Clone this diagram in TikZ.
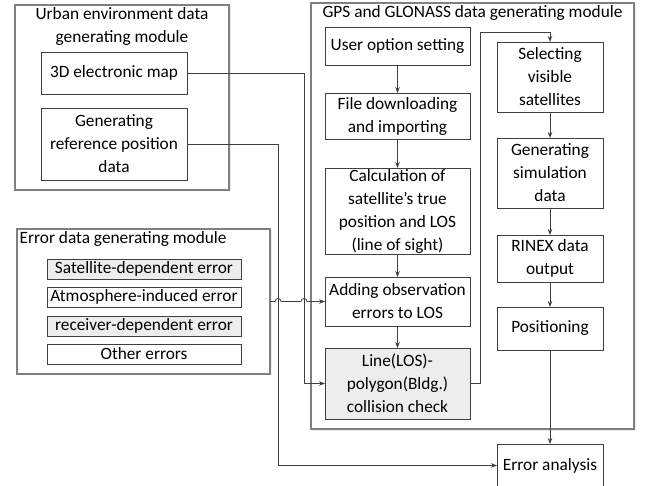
\documentclass[tikz,border=0pt]{standalone}
\usepackage{fontspec}
\setmainfont{Carlito}
\usetikzlibrary{positioning, arrows.meta, shadows, calc}

\begin{document}
\begin{tikzpicture}[
    x=1pt, y=1pt,
    font=\fontsize{17.3}{23}\selectfont,
    module/.style={rectangle, draw=black!50, line width=1.2pt, fill=white, inner sep=0pt, outer sep=0pt, anchor=north west, drop shadow={shadow xshift=1.5pt, shadow yshift=-1.5pt, opacity=0.15}},
    heading/.style={inner sep=2.5pt, align=center},
    block/.style={rectangle, draw=black!75, line width=0.8pt, fill=white, align=center, inner sep=0pt, outer sep=0pt, drop shadow={shadow xshift=1.2pt, shadow yshift=-1.2pt, opacity=0.12}},
    shaded/.style={fill=black!7},
    leftcol/.style={block, minimum width=145pt},
    rightcol/.style={block, minimum width=106pt},
    errtype/.style={block, minimum width=194pt, minimum height=20pt},
    link/.style={draw=black!75, line width=0.8pt, -{Stealth[length=6pt, width=4.5pt]}}
]
\useasboundingbox (0,0) rectangle (651,-486);

% Module frames
\node[module, minimum width=214pt, minimum height=185pt] (urban) at (15,-5) {};
\node[module, minimum width=253pt, minimum height=145pt] (errmod) at (17,-229) {};
\node[module, minimum width=323pt, minimum height=426pt] (gps) at (311,-3) {};

\node[heading, below=0pt of urban.north] (urbantitle) {Urban environment data\\generating module};
\node[heading, anchor=north west] (errtitle) at (errmod.north west) {Error data generating module};
\node[heading, below=0pt of gps.north] (gpstitle) {GPS and GLONASS data generating module};

% Urban environment data
\node[block, minimum width=146pt, minimum height=42pt, anchor=north west] (map) at (41,-52) {3D electronic map};
\node[block, minimum width=146pt, minimum height=72pt, below=14pt of map] (refpos) {Generating\\reference position\\data};

% Error sources
\node[errtype, shaded, anchor=north west] (sat) at (47,-259) {Satellite-dependent error};
\node[errtype, below=8pt of sat] (atm) {Atmosphere-induced error};
\node[errtype, shaded, below=9pt of atm] (rcv) {receiver-dependent error};
\node[errtype, below=8pt of rcv] (other) {Other errors};

% GPS/GLONASS chain, left column
\node[leftcol, minimum height=38pt, anchor=north] (user) at (397.5,-27) {User option setting};
\node[leftcol, minimum height=46pt, below=28pt of user] (download) {File downloading\\and importing};
\node[leftcol, minimum height=86pt, below=29pt of download] (truepos) {Calculation of\\satellite's true\\position and LOS\\(line of sight)};
\node[leftcol, minimum height=49pt, below=23pt of truepos] (adderr) {Adding observation\\errors to LOS};
\node[leftcol, shaded, minimum height=71pt, below=22pt of adderr] (collide) {Line(LOS)-\\polygon(Bldg.)\\collision check};

% right column
\node[rightcol, minimum height=70pt, anchor=north] (visible) at (550,-42) {Selecting\\visible\\satellites};
\node[rightcol, minimum height=70pt, below=26pt of visible] (simdata) {Generating\\simulation\\data};
\node[rightcol, minimum height=47pt, below=27pt of simdata] (rinex) {RINEX data\\output};
\node[rightcol, minimum height=43pt, below=25pt of rinex] (posn) {Positioning};
\node[rightcol, minimum height=43pt, below=94pt of posn] (analysis) {Error analysis};

% Connectors
\coordinate (mapdrop) at (304,0);
\coordinate (refdrop) at (278,0);

\draw[link] (user) -- (download);
\draw[link] (download) -- (truepos);
\draw[link] (truepos) -- (adderr);
\draw[link] (adderr) -- (collide);
\draw[link] (collide.east) -- ++(10,0) |- ($(visible.north)+(0,10)$) -- (visible.north);
\draw[link] (visible) -- (simdata);
\draw[link] (simdata) -- (rinex);
\draw[link] (rinex) -- (posn);
\draw[link] (posn) -- (analysis);

\draw[link] (map.east) -| (mapdrop |- collide.west) -- (collide.west);
\draw[link] (refpos.east) -| (refdrop |- analysis.west) -- (analysis.west);
% error line hops over the two drops
\draw[link] (errmod.east) -- ($(refdrop |- errmod.east)+(-3,0)$)
    arc[start angle=180, end angle=0, radius=3pt] -- ($(mapdrop |- errmod.east)+(-3,0)$)
    arc[start angle=180, end angle=0, radius=3pt] -- (adderr.west);

\end{tikzpicture}
\end{document}
